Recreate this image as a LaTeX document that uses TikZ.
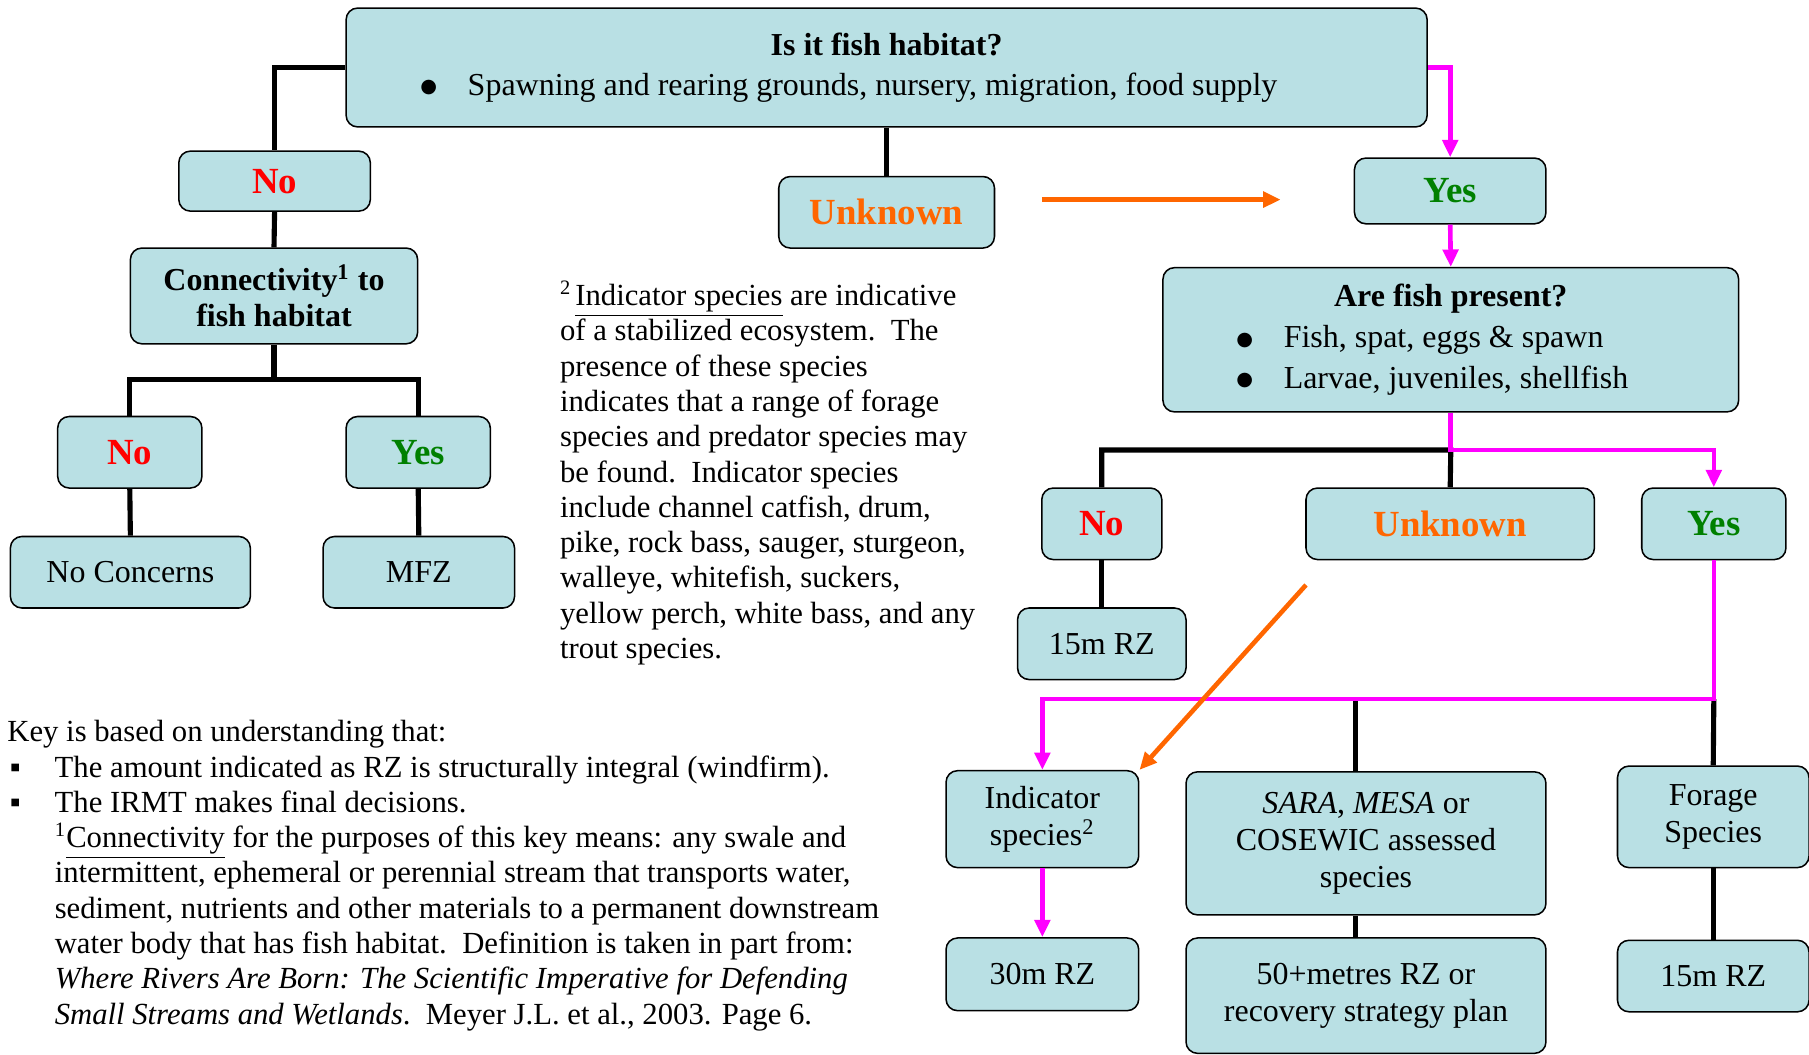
\documentclass[tikz,border=0pt]{standalone}
\usepackage{fontspec}
\setmainfont{Liberation Serif}
\newfontfamily\dotfont{DejaVu Sans}
\usetikzlibrary{arrows.meta}

\definecolor{boxblue}{RGB}{185,224,228}
\definecolor{nored}{RGB}{255,0,0}
\definecolor{yesgreen}{RGB}{0,128,0}
\definecolor{unkorange}{RGB}{255,102,0}
\definecolor{pathpink}{RGB}{255,0,255}

\newcommand{\boxbullet}{\makebox[17pt][l]{\hspace*{-1.5pt}\raisebox{1pt}{\dotfont\fontsize{7.5}{7.5}\selectfont ●}}}

\begin{document}
\begin{tikzpicture}[x=0.451pt, y=-0.451pt,
    font=\fontsize{12}{13.8}\selectfont,
    box/.style={draw, line width=0.6pt, rounded corners=4.5pt, fill=boxblue,
        inner sep=0pt, align=center, font=\fontsize{12.5}{14.4}\selectfont},
    size/.style 2 args={minimum width=#1*0.451pt, minimum height=#2*0.451pt},
    answer/.style={font=\fontsize{14.4}{16}\selectfont\bfseries},
    tree/.style={line width=2pt},
    pinkline/.style={line width=1.8pt, pathpink},
    orangeline/.style={line width=1.8pt, unkorange},
    >={Triangle[length=6.8pt,width=6pt]}]
    \useasboundingbox (0,0) rectangle (1568,914);

    % question boxes
    \node[box, size={937}{103}] (habitat) at (768.5,58.5)
        {\textbf{Is it fish habitat?}\\[1pt]
         \boxbullet Spawning and rearing grounds, nursery, migration, food supply\hspace*{28pt}\null};
    \node[box, size={499}{125}] (present) at (1257.5,294.5)
        {\textbf{Are fish present?}\\[1.5pt]
         \makebox[156pt][l]{\boxbullet Fish, spat, eggs \& spawn}\hspace*{8.6pt}\null\\[1.5pt]
         \makebox[156pt][l]{\boxbullet Larvae, juveniles, shellfish}\hspace*{8.6pt}\null};

    % left branch
    \node[box, answer, text=nored, size={166}{52}] (nohab) at (238,157) {No};
    \node[box, font=\fontsize{12.5}{14}\selectfont\bfseries, size={249}{83}] (connect) at (237.5,256.5)
        {Connectivity\textsuperscript{1} to\\ fish habitat};
    \node[box, answer, text=nored, size={125}{62}] (noconn) at (112.5,392) {No};
    \node[box, answer, text=yesgreen, size={125}{62}] (yesconn) at (362.5,392) {Yes};
    \node[box, size={208}{62}] (noconcern) at (113,496) {No Concerns};
    \node[box, size={166}{62}] (mfz) at (363,496) {MFZ};

    % middle and right branch
    \node[box, answer, text=unkorange, size={187}{62}] (unkhab) at (768.5,184) {Unknown};
    \node[box, answer, text=yesgreen, size={166}{57}] (yeshab) at (1257,165.5) {Yes};
    \node[box, answer, text=nored, size={104}{62}] (nofish) at (955,454) {No};
    \node[box, answer, text=unkorange, size={250}{62}] (unkfish) at (1257,454) {Unknown};
    \node[box, answer, text=yesgreen, size={125}{62}] (yesfish) at (1485.5,454) {Yes};
    \node[box, size={146}{62}] (rzno) at (955,558) {15m RZ};
    \node[box, size={167}{84}] (indicator) at (903.5,710) {Indicator\\ species\textsuperscript{2}};
    \node[box, size={312}{124}] (sara) at (1184,731) {\textit{SARA}, \textit{MESA} or\\ COSEWIC assessed\\ species};
    \node[box, size={166}{88}] (forage) at (1485,708) {Forage\\ Species};
    \node[box, size={167}{63}] (rzind) at (903.5,844.5) {30m RZ};
    \node[box, size={312}{100}] (rzsara) at (1184,863) {50+metres RZ or\\ recovery strategy plan};
    \node[box, size={166}{62}] (rzforage) at (1485,846) {15m RZ};

    % notes
    \node[anchor=north west, align=left, inner sep=0pt] (indnote) at (485,243)
        {\textsuperscript{2}\hspace{1.5pt}\underline{Indicator species} are indicative\\
         of a stabilized ecosystem.\ \ The\\
         presence of these species\\
         indicates that a range of forage\\
         species and predator species may\\
         be found.\ \ Indicator species\\
         include channel catfish, drum,\\
         pike, rock bass, sauger, sturgeon,\\
         walleye, whitefish, suckers,\\
         yellow perch, white bass, and any\\
         trout species.};
    \node[anchor=north west, align=left, inner sep=0pt] (keynote) at (6,624)
        {Key is based on understanding that:\\
         \makebox[18.5pt][l]{\hspace*{1pt}▪}The amount indicated as RZ is structurally integral (windfirm).\\
         \makebox[18.5pt][l]{\hspace*{1pt}▪}The IRMT makes final decisions.\\
         \hspace*{18.5pt}\textsuperscript{1}\underline{Connectivity} for the purposes of this key means: any swale and\\
         \hspace*{18.5pt}intermittent, ephemeral or perennial stream that transports water,\\
         \hspace*{18.5pt}sediment, nutrients and other materials to a permanent downstream\\
         \hspace*{18.5pt}water body that has fish habitat.\ \ Definition is taken in part from:\\
         \hspace*{18.5pt}\textit{Where Rivers Are Born: The Scientific Imperative for Defending}\\
         \hspace*{18.5pt}\textit{Small Streams and Wetlands}.\ \ Meyer J.L. et al., 2003. Page 6.};

    % black connectors
    \coordinate (connfork) at (237.5,329);
    \coordinate (presfork) at (1257.5,390);
    \coordinate (yesfork) at (1485.5,606);
    \coordinate (sarafork) at (1175,606);
    \draw[tree] (habitat.west) -| (nohab.north);
    \draw[tree] (nohab.south) -- (connect.north);
    \draw[tree] (connect.south) -- (connfork);
    \draw[tree] (noconn.north) |- (connfork) -| (yesconn.north);
    \draw[tree] (noconn.south) -- (noconcern.north);
    \draw[tree] (yesconn.south) -- (mfz.north);
    \draw[tree] (habitat.south) -- (unkhab.north);
    \draw[tree] (nofish.north) |- (presfork) -- (unkfish.north);
    \draw[tree] (nofish.south) -- (rzno.north);
    \draw[tree] (sarafork) -- (sarafork |- sara.north);
    \draw[tree] (sarafork |- sara.south) -- (sarafork |- rzsara.north);
    \draw[tree] (yesfork) -- (forage.north);
    \draw[tree] (forage.south) -- (rzforage.north);

    % magenta path
    \draw[pinkline, ->] (habitat.east) -| (yeshab.north);
    \draw[pinkline, ->] (yeshab.south) -- (present.north);
    \draw[pinkline, ->] (present.south) -- (presfork) -| (yesfish.north);
    \draw[pinkline, ->] (yesfish.south) -- (yesfork) -| (indicator.north);
    \draw[pinkline, ->] (indicator.south) -- (rzind.north);

    % orange arrows
    \coordinate (unkstart) at (903,173);
    \coordinate (unkend) at (1110,173);
    \coordinate (unkstart2) at (1132,507);
    \draw[orangeline, ->] (unkstart) -- (unkend);
    \draw[orangeline, ->] (unkstart2) -- (indicator.north east);
\end{tikzpicture}
\end{document}
